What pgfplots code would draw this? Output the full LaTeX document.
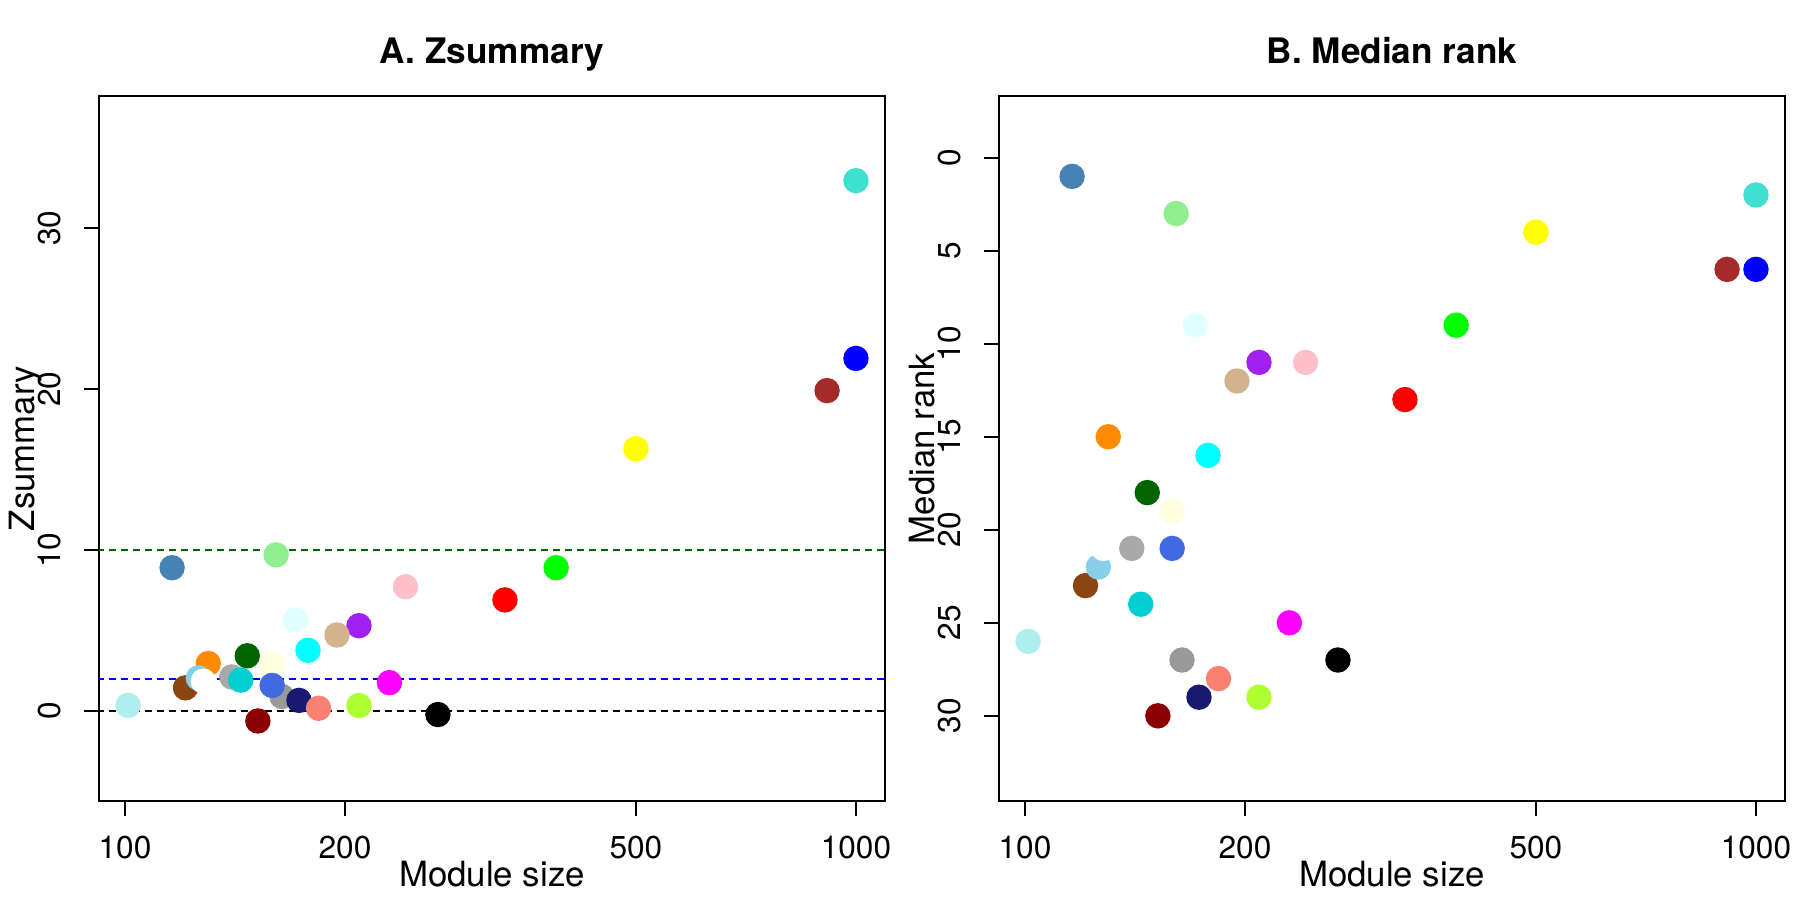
\documentclass[border=0pt]{standalone}
\usepackage{pgfplots}
\pgfplotsset{compat=1.18}
\usepackage{pgfplotstable}
\usepackage{fontspec}
\setmainfont{TeX Gyre Heros}

\definecolor{c-black}{HTML}{000000}
\definecolor{c-blue}{HTML}{0000FF}
\definecolor{c-brown}{HTML}{A52A2A}
\definecolor{c-cyan}{HTML}{00FFFF}
\definecolor{c-darkgreen}{HTML}{006400}
\definecolor{c-darkgrey}{HTML}{A9A9A9}
\definecolor{c-darkorange}{HTML}{FF8C00}
\definecolor{c-darkred}{HTML}{8B0000}
\definecolor{c-darkturquoise}{HTML}{00CED1}
\definecolor{c-green}{HTML}{00FF00}
\definecolor{c-greenyellow}{HTML}{ADFF2F}
\definecolor{c-grey60}{HTML}{999999}
\definecolor{c-lightcyan}{HTML}{E0FFFF}
\definecolor{c-lightgreen}{HTML}{90EE90}
\definecolor{c-lightyellow}{HTML}{FFFFE0}
\definecolor{c-magenta}{HTML}{FF00FF}
\definecolor{c-midnightblue}{HTML}{191970}
\definecolor{c-paleturquoise}{HTML}{AFEEEE}
\definecolor{c-pink}{HTML}{FFC0CB}
\definecolor{c-purple}{HTML}{A020F0}
\definecolor{c-red}{HTML}{FF0000}
\definecolor{c-royalblue}{HTML}{4169E1}
\definecolor{c-saddlebrown}{HTML}{8B4513}
\definecolor{c-salmon}{HTML}{FA8072}
\definecolor{c-skyblue}{HTML}{87CEEB}
\definecolor{c-steelblue}{HTML}{4682B4}
\definecolor{c-tan}{HTML}{D2B48C}
\definecolor{c-turquoise}{HTML}{40E0D0}
\definecolor{c-white}{HTML}{FFFFFF}
\definecolor{c-yellow}{HTML}{FFFF00}

\pgfplotstableread{
size z rank col
268 -0.22 27 black
1000 21.9 6 blue
913 19.9 6 brown
178 3.77 16 cyan
147 3.43 18 darkgreen
140 2.12 21 darkgrey
130 2.95 15 darkorange
152 -0.62 30 darkred
144 1.92 24 darkturquoise
389 8.9 9 green
209 0.34 29 greenyellow
164 0.9 27 grey60
171 5.65 9 lightcyan
161 9.7 3 lightgreen
159 2.92 19 lightyellow
230 1.76 25 magenta
173 0.66 29 midnightblue
101 0.35 26 paleturquoise
242 7.72 11 pink
209 5.3 11 purple
331 6.9 13 red
159 1.59 21 royalblue
121 1.44 23 saddlebrown
184 0.17 28 salmon
126 2.05 22 skyblue
116 8.9 1 steelblue
195 4.72 12 tan
1000 32.94 2 turquoise
128 1.85 21 white
500 16.29 4 yellow
}\modtable

\begin{document}
\begin{tikzpicture}
\useasboundingbox (0,0) rectangle (18cm,9cm);
\begin{axis}[
  at={(0.99cm,0.99cm)}, anchor=south west,
  scale only axis,
  width=7.86cm, height=7.05cm,
  xmode=log,
  xmin=92.15, xmax=1095.9,
  xtick={100,200,500,1000},
  xticklabels={100,200,500,1000},
  xminorticks=false,
  axis line style={line width=0.45pt},
  tick style={line width=0.45pt, black},
  tick align=outside,
  major tick length=1.5mm,
  xtick pos=bottom, ytick pos=left,
  /pgf/number format/assume math mode=true,
  tick label style={font=\fontsize{9}{10}\selectfont},
  xticklabel style={anchor=base, yshift=-4.2mm},
  yticklabel style={xshift=-2.4mm, rotate=90, anchor=base},
  label style={font=\fontsize{9.9}{11}\selectfont},
  xlabel style={at={(axis description cs:0.5,0)}, anchor=base, yshift=-8.5mm},
  ylabel style={at={(axis description cs:-0.0822,0.5)}, anchor=base},
  every axis title/.style={font=\bfseries\fontsize{10}{12}\selectfont, at={(axis description cs:0.5,1)}, anchor=base, yshift=3.25mm},
  xlabel={Module size},
  ymin=-5.59, ymax=38.2,
  ytick={0,10,20,30}, yticklabels={0,10,20,30},
  ylabel={Zsummary},
  title={A. Zsummary}]
  \addplot[black, line width=0.45pt, dash pattern=on 0.75mm off 0.45mm, forget plot] coordinates {(50,0) (2000,0)};
  \addplot[blue, line width=0.45pt, dash pattern=on 0.75mm off 0.45mm, forget plot] coordinates {(50,2) (2000,2)};
  \addplot[c-darkgreen, line width=0.45pt, dash pattern=on 0.75mm off 0.45mm, forget plot] coordinates {(50,10) (2000,10)};
  \addplot[scatter, only marks, mark=*, mark size=1.2mm,
    scatter src=explicit symbolic,
    scatter/classes={
      black={mark=*,c-black},
      blue={mark=*,c-blue},
      brown={mark=*,c-brown},
      cyan={mark=*,c-cyan},
      darkgreen={mark=*,c-darkgreen},
      darkgrey={mark=*,c-darkgrey},
      darkorange={mark=*,c-darkorange},
      darkred={mark=*,c-darkred},
      darkturquoise={mark=*,c-darkturquoise},
      green={mark=*,c-green},
      greenyellow={mark=*,c-greenyellow},
      grey60={mark=*,c-grey60},
      lightcyan={mark=*,c-lightcyan},
      lightgreen={mark=*,c-lightgreen},
      lightyellow={mark=*,c-lightyellow},
      magenta={mark=*,c-magenta},
      midnightblue={mark=*,c-midnightblue},
      paleturquoise={mark=*,c-paleturquoise},
      pink={mark=*,c-pink},
      purple={mark=*,c-purple},
      red={mark=*,c-red},
      royalblue={mark=*,c-royalblue},
      saddlebrown={mark=*,c-saddlebrown},
      salmon={mark=*,c-salmon},
      skyblue={mark=*,c-skyblue},
      steelblue={mark=*,c-steelblue},
      tan={mark=*,c-tan},
      turquoise={mark=*,c-turquoise},
      white={mark=*,c-white},
      yellow={mark=*,c-yellow}
    }] table[x=size, y=z, meta=col] {\modtable};
\end{axis}
\begin{axis}[
  at={(9.99cm,0.99cm)}, anchor=south west,
  scale only axis,
  width=7.86cm, height=7.05cm,
  xmode=log,
  xmin=92.15, xmax=1095.9,
  xtick={100,200,500,1000},
  xticklabels={100,200,500,1000},
  xminorticks=false,
  axis line style={line width=0.45pt},
  tick style={line width=0.45pt, black},
  tick align=outside,
  major tick length=1.5mm,
  xtick pos=bottom, ytick pos=left,
  /pgf/number format/assume math mode=true,
  tick label style={font=\fontsize{9}{10}\selectfont},
  xticklabel style={anchor=base, yshift=-4.2mm},
  yticklabel style={xshift=-2.4mm, rotate=90, anchor=base},
  label style={font=\fontsize{9.9}{11}\selectfont},
  xlabel style={at={(axis description cs:0.5,0)}, anchor=base, yshift=-8.5mm},
  ylabel style={at={(axis description cs:-0.0822,0.5)}, anchor=base},
  every axis title/.style={font=\bfseries\fontsize{10}{12}\selectfont, at={(axis description cs:0.5,1)}, anchor=base, yshift=3.25mm},
  xlabel={Module size},
  y dir=reverse,
  ymin=-3.32, ymax=34.58,
  ytick={0,5,10,15,20,25,30}, yticklabels={0,5,10,15,20,25,30},
  ylabel={Median rank},
  title={B. Median rank}]
  \addplot[scatter, only marks, mark=*, mark size=1.2mm,
    scatter src=explicit symbolic,
    scatter/classes={
      black={mark=*,c-black},
      blue={mark=*,c-blue},
      brown={mark=*,c-brown},
      cyan={mark=*,c-cyan},
      darkgreen={mark=*,c-darkgreen},
      darkgrey={mark=*,c-darkgrey},
      darkorange={mark=*,c-darkorange},
      darkred={mark=*,c-darkred},
      darkturquoise={mark=*,c-darkturquoise},
      green={mark=*,c-green},
      greenyellow={mark=*,c-greenyellow},
      grey60={mark=*,c-grey60},
      lightcyan={mark=*,c-lightcyan},
      lightgreen={mark=*,c-lightgreen},
      lightyellow={mark=*,c-lightyellow},
      magenta={mark=*,c-magenta},
      midnightblue={mark=*,c-midnightblue},
      paleturquoise={mark=*,c-paleturquoise},
      pink={mark=*,c-pink},
      purple={mark=*,c-purple},
      red={mark=*,c-red},
      royalblue={mark=*,c-royalblue},
      saddlebrown={mark=*,c-saddlebrown},
      salmon={mark=*,c-salmon},
      skyblue={mark=*,c-skyblue},
      steelblue={mark=*,c-steelblue},
      tan={mark=*,c-tan},
      turquoise={mark=*,c-turquoise},
      white={mark=*,c-white},
      yellow={mark=*,c-yellow}
    }] table[x=size, y=rank, meta=col] {\modtable};
\end{axis}
\end{tikzpicture}
\end{document}
